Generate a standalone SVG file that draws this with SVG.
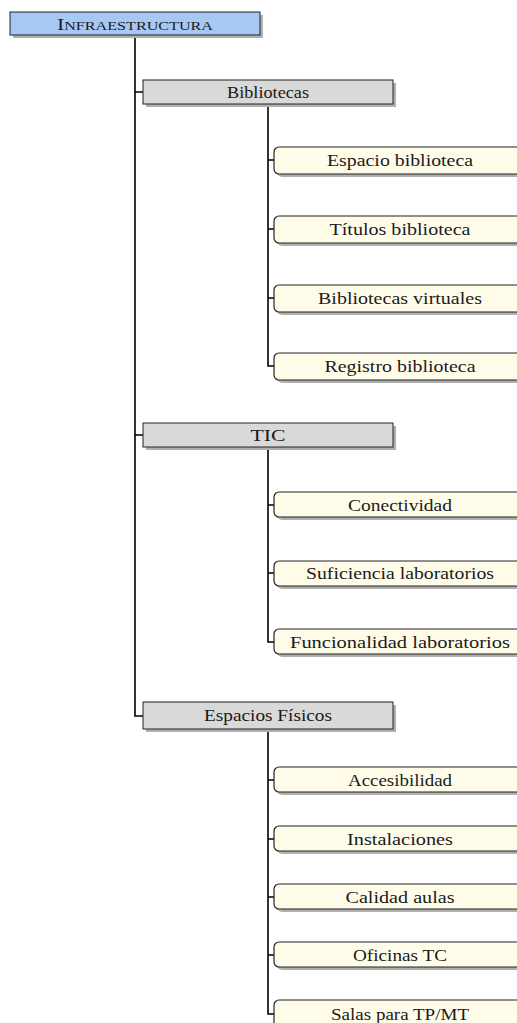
<svg xmlns="http://www.w3.org/2000/svg" width="517" height="1023" viewBox="0 0 517 1023">
<style>
.t{font-family:"Liberation Serif","Times New Roman",serif;font-size:17.5px;fill:#1a1a1a;text-anchor:middle}
.sh{fill:#b0b0b0}
.root{fill:#a6c8f2;stroke:#222;stroke-width:1}
.l1{fill:#d9d9d9;stroke:#222;stroke-width:1}
.leaf{fill:#fffdea;stroke:#222;stroke-width:1.2}
.c{fill:none;stroke:#000;stroke-width:1.6}
</style>
<g id="connectors">
<path class="c" d="M135 35 V716 H143 M135 92 H143 M135 435 H143"/>
<path class="c" d="M268 104 V366 H274 M268 160 H274 M268 229 H274 M268 298 H274"/>
<path class="c" d="M268 447 V642 H274 M268 505 H274 M268 573 H274"/>
<path class="c" d="M268 729 V1014 H274 M268 780 H274 M268 839 H274 M268 897 H274 M268 955 H274"/>
</g>
<g id="n-root">
<rect class="sh" x="13" y="15" width="250" height="23"/>
<rect class="root" x="10" y="12" width="250" height="23"/>
<text class="t" x="135" y="29.5" textLength="156" lengthAdjust="spacingAndGlyphs">I<tspan font-size="13">NFRAESTRUCTURA</tspan></text>
</g>
<g id="n-bibliotecas">
<rect class="sh" x="146" y="83" width="250" height="24"/>
<rect class="l1" x="143" y="80" width="250" height="24"/>
<text class="t" x="268" y="97.5" textLength="82" lengthAdjust="spacingAndGlyphs">Bibliotecas</text>
</g>
<g id="n-espacio">
<rect class="sh" x="277" y="150" width="260" height="27" rx="5"/>
<rect class="leaf" x="274" y="147" width="260" height="27" rx="5"/>
<text class="t" x="400" y="166" textLength="146" lengthAdjust="spacingAndGlyphs">Espacio biblioteca</text>
</g>
<g id="n-titulos">
<rect class="sh" x="277" y="219" width="260" height="27" rx="5"/>
<rect class="leaf" x="274" y="216" width="260" height="27" rx="5"/>
<text class="t" x="400" y="235" textLength="141" lengthAdjust="spacingAndGlyphs">Títulos biblioteca</text>
</g>
<g id="n-virtuales">
<rect class="sh" x="277" y="288" width="260" height="27" rx="5"/>
<rect class="leaf" x="274" y="285" width="260" height="27" rx="5"/>
<text class="t" x="400" y="304" textLength="164" lengthAdjust="spacingAndGlyphs">Bibliotecas virtuales</text>
</g>
<g id="n-registro">
<rect class="sh" x="277" y="356" width="260" height="27" rx="5"/>
<rect class="leaf" x="274" y="353" width="260" height="27" rx="5"/>
<text class="t" x="400" y="372" textLength="151" lengthAdjust="spacingAndGlyphs">Registro biblioteca</text>
</g>
<g id="n-tic">
<rect class="sh" x="146" y="426" width="250" height="24"/>
<rect class="l1" x="143" y="423" width="250" height="24"/>
<text class="t" x="268" y="440.5" textLength="35" lengthAdjust="spacingAndGlyphs">TIC</text>
</g>
<g id="n-conectividad">
<rect class="sh" x="277" y="495" width="260" height="25" rx="5"/>
<rect class="leaf" x="274" y="492" width="260" height="25" rx="5"/>
<text class="t" x="400" y="510.5" textLength="104" lengthAdjust="spacingAndGlyphs">Conectividad</text>
</g>
<g id="n-suficiencia">
<rect class="sh" x="277" y="564" width="260" height="25" rx="5"/>
<rect class="leaf" x="274" y="561" width="260" height="25" rx="5"/>
<text class="t" x="400" y="578.5" textLength="188" lengthAdjust="spacingAndGlyphs">Suficiencia laboratorios</text>
</g>
<g id="n-funcionalidad">
<rect class="sh" x="277" y="632" width="260" height="25" rx="5"/>
<rect class="leaf" x="274" y="629" width="260" height="25" rx="5"/>
<text class="t" x="400" y="647.5" textLength="220" lengthAdjust="spacingAndGlyphs">Funcionalidad laboratorios</text>
</g>
<g id="n-espacios">
<rect class="sh" x="146" y="705" width="250" height="27"/>
<rect class="l1" x="143" y="702" width="250" height="27"/>
<text class="t" x="268" y="721" textLength="128" lengthAdjust="spacingAndGlyphs">Espacios Físicos</text>
</g>
<g id="n-accesibilidad">
<rect class="sh" x="277" y="770" width="260" height="25" rx="5"/>
<rect class="leaf" x="274" y="767" width="260" height="25" rx="5"/>
<text class="t" x="400" y="785.5" textLength="104" lengthAdjust="spacingAndGlyphs">Accesibilidad</text>
</g>
<g id="n-instalaciones">
<rect class="sh" x="277" y="829" width="260" height="25" rx="5"/>
<rect class="leaf" x="274" y="826" width="260" height="25" rx="5"/>
<text class="t" x="400" y="844.5" textLength="106" lengthAdjust="spacingAndGlyphs">Instalaciones</text>
</g>
<g id="n-calidad">
<rect class="sh" x="277" y="887" width="260" height="25" rx="5"/>
<rect class="leaf" x="274" y="884" width="260" height="25" rx="5"/>
<text class="t" x="400" y="902.5" textLength="109" lengthAdjust="spacingAndGlyphs">Calidad aulas</text>
</g>
<g id="n-oficinas">
<rect class="sh" x="277" y="945" width="260" height="25" rx="5"/>
<rect class="leaf" x="274" y="942" width="260" height="25" rx="5"/>
<text class="t" x="400" y="960.5" textLength="94" lengthAdjust="spacingAndGlyphs">Oficinas TC</text>
</g>
<g id="n-salas">
<rect class="sh" x="277" y="1003" width="260" height="27" rx="5"/>
<rect class="leaf" x="274" y="1000" width="260" height="27" rx="5"/>
<text class="t" x="400" y="1019.5" textLength="138" lengthAdjust="spacingAndGlyphs">Salas para TP/MT</text>
</g>
</svg>
